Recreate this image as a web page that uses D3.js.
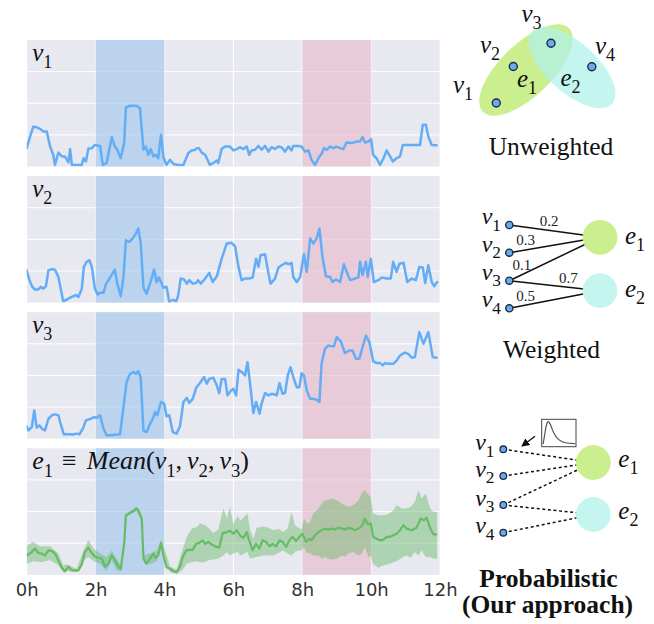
<!DOCTYPE html>
<html>
<head>
<meta charset="utf-8">
<script src="https://cdn.jsdelivr.net/npm/d3@7"></script>
<style>
  body { margin: 0; background: #fff; }
</style>
</head>
<body>
<svg id="fig" width="654" height="624"></svg>
<script>
// ---------- data (hours, value) ----------
var v1Time = [0,0.10,0.19,0.29,0.39,0.48,0.58,0.68,0.77,0.82,0.92,1.02,1.11,1.21,1.26,1.31,1.45,1.60,1.65,1.72,1.79,1.89,1.98,2.13,2.21,2.32,2.47,2.56,2.63,2.73,2.83,2.88,3.00,3.19,3.29,3.39,3.46,3.53,3.60,3.68,3.75,3.82,3.90,3.97,4.06,4.16,4.26,4.40,4.55,4.69,4.79,4.86,4.94,5.00,5.08,5.18,5.32,5.42,5.52,5.56,5.66,5.76,5.90,6.00,6.10,6.19,6.29,6.39,6.46,6.53,6.63,6.73,6.82,6.92,7.02,7.11,7.21,7.31,7.40,7.50,7.60,7.69,7.74,7.89,7.98,8.08,8.18,8.27,8.37,8.47,8.57,8.63,8.71,8.81,8.90,9.00,9.10,9.19,9.29,9.44,9.58,9.68,9.75,9.82,9.92,10.00,10.06,10.16,10.26,10.36,10.45,10.55,10.63,10.74,10.84,10.92,11.03,11.23,11.42,11.50,11.59,11.66,11.76,11.90];
var v1Vals = [0.58,0.95,1.26,1.24,1.19,1.11,1.11,0.63,0.37,0.05,0.44,0.32,0.32,0.13,0.55,0.05,0.05,0.05,0.26,0.16,0.57,0.58,0.68,0.65,0.05,0.11,0.93,0.63,0.53,0.26,0.74,1.87,1.92,1.92,1.84,0.53,0.63,0.37,0.55,0.32,0.37,0.26,1.00,0.29,0.05,0.21,0.08,0.05,0.05,0.42,0.51,0.51,0.58,0.58,0.44,0.37,0.05,0.11,0.19,0.11,0.55,0.63,0.63,0.51,0.55,0.61,0.55,0.63,0.37,0.51,0.53,0.65,0.53,0.65,0.47,0.61,0.55,0.63,0.61,0.47,0.63,0.51,0.65,0.65,0.63,0.47,0.51,0.21,0.05,0.26,0.42,0.58,0.53,0.63,0.58,0.63,0.58,0.55,0.76,0.74,0.79,0.79,0.93,0.76,0.79,0.86,0.37,0.26,0.05,0.26,0.51,0.32,0.16,0.26,0.32,0.68,0.68,0.68,0.68,1.32,1.32,0.95,0.68,0.67];

var v2Time = [0,0.08,0.15,0.24,0.34,0.41,0.48,0.56,0.63,0.73,0.82,0.92,1.06,1.16,1.26,1.35,1.43,1.50,1.60,1.66,1.74,1.82,1.89,1.98,2.06,2.13,2.23,2.30,2.42,2.56,2.63,2.73,2.81,2.88,2.98,3.08,3.17,3.24,3.31,3.39,3.48,3.58,3.70,3.77,3.84,3.92,3.97,4.06,4.14,4.24,4.34,4.40,4.47,4.57,4.65,4.72,4.82,4.92,4.98,5.05,5.18,5.30,5.40,5.52,5.66,5.81,5.95,6.05,6.15,6.24,6.34,6.46,6.56,6.66,6.73,6.79,6.92,7.02,7.08,7.21,7.31,7.40,7.53,7.60,7.69,7.74,7.84,7.94,8.05,8.13,8.23,8.32,8.42,8.50,8.59,8.69,8.81,8.88,8.98,9.10,9.21,9.31,9.39,9.53,9.63,9.68,9.75,9.85,9.90,9.99,10.08,10.21,10.31,10.45,10.57,10.64,10.74,10.82,10.94,11.05,11.18,11.30,11.40,11.50,11.57,11.66,11.76,11.83,11.92];
var v2Vals = [1.02,0.71,0.52,0.41,0.42,0.50,0.44,0.52,1.02,1.06,1.04,0.81,0.04,0.09,0.16,0.20,0.24,0.18,0.44,1.13,1.29,1.34,1.13,0.44,0.26,0.31,0.31,0.58,0.79,1.04,0.60,0.20,0.81,1.97,1.92,2.03,2.18,2.34,1.89,0.47,0.28,0.60,1.04,0.65,0.79,0.60,0.47,0.50,0.02,0.09,0.04,0.23,0.76,0.73,0.60,0.71,0.60,0.62,0.71,0.60,0.76,0.94,0.65,0.83,1.39,1.87,1.89,1.78,1.13,0.71,0.76,0.76,0.79,1.39,1.13,1.50,1.53,0.92,0.60,0.76,1.11,1.18,1.26,1.21,1.26,0.81,0.65,0.81,1.53,0.97,2.03,1.87,2.03,2.34,1.42,0.83,0.81,0.65,0.73,0.65,1.21,0.92,0.71,0.76,0.79,1.29,0.87,1.29,0.81,1.39,0.65,0.71,0.79,0.76,0.76,1.29,0.97,1.23,1.26,0.65,0.76,0.71,1.13,1.11,0.62,1.18,0.65,0.52,0.65];

var v3Time = [0,0.05,0.15,0.22,0.29,0.37,0.44,0.53,0.63,0.73,0.82,0.92,0.99,1.08,1.21,1.34,1.43,1.53,1.63,1.72,1.86,1.95,2.03,2.13,2.23,2.32,2.47,2.61,2.71,2.81,2.90,3.00,3.10,3.17,3.24,3.31,3.39,3.48,3.56,3.66,3.73,3.79,3.90,3.99,4.06,4.14,4.24,4.35,4.45,4.55,4.65,4.72,4.82,4.92,5.03,5.15,5.23,5.30,5.42,5.52,5.59,5.66,5.76,5.83,5.92,6.00,6.08,6.15,6.24,6.34,6.41,6.48,6.58,6.66,6.76,6.82,6.92,7.02,7.11,7.21,7.26,7.34,7.43,7.50,7.58,7.66,7.74,7.84,7.92,7.98,8.05,8.13,8.23,8.32,8.42,8.50,8.56,8.66,8.76,8.86,8.92,9.00,9.12,9.24,9.37,9.46,9.56,9.66,9.75,9.85,9.95,10.06,10.16,10.26,10.34,10.40,10.50,10.65,10.74,10.84,10.98,11.08,11.18,11.27,11.40,11.52,11.66,11.79,11.90];
var v3Vals = [0.39,0.26,0.37,0.89,0.35,0.42,0.32,0.26,0.63,0.74,0.77,0.74,0.45,0.14,0.14,0.13,0.16,0.14,0.32,0.58,0.63,0.68,0.66,0.74,0.32,0.11,0.11,0.13,0.14,1.00,1.79,2.05,2.11,2.05,2.14,1.93,0.26,0.21,0.42,0.63,0.84,0.74,1.16,1.11,0.71,0.74,0.21,0.16,0.39,1.16,1.29,1.13,1.26,1.61,1.76,1.95,1.74,1.89,1.93,1.68,1.44,1.89,1.89,1.37,1.51,1.58,1.37,2.18,2.11,2.00,2.42,1.79,0.81,1.16,0.79,1.11,1.44,1.37,1.42,1.40,1.37,1.76,1.42,1.44,2.00,2.26,1.95,1.63,1.63,2.07,2.00,1.53,1.26,1.26,1.23,1.16,2.37,2.84,2.95,2.92,2.92,3.21,3.08,2.71,2.79,2.79,2.53,2.53,2.89,3.26,3.05,2.45,2.39,2.39,2.32,2.39,2.37,2.37,2.47,2.63,2.72,2.68,2.56,2.58,3.37,3.00,3.37,2.58,2.56];

var meanTime = [0,0.15,0.24,0.34,0.44,0.53,0.63,0.73,0.82,0.92,1.02,1.11,1.21,1.31,1.50,1.60,1.69,1.79,1.89,1.98,2.08,2.18,2.27,2.37,2.47,2.56,2.66,2.73,2.83,2.88,3.00,3.10,3.19,3.24,3.34,3.39,3.48,3.58,3.68,3.75,3.82,3.90,3.97,4.06,4.16,4.26,4.35,4.45,4.53,4.63,4.72,4.82,4.92,5.01,5.11,5.18,5.27,5.37,5.47,5.59,5.69,5.81,5.90,6.00,6.10,6.19,6.29,6.39,6.46,6.56,6.66,6.75,6.85,6.95,7.05,7.14,7.24,7.34,7.43,7.53,7.63,7.72,7.82,7.92,8.01,8.11,8.21,8.27,8.37,8.47,8.56,8.66,8.76,8.86,8.95,9.05,9.15,9.24,9.34,9.44,9.53,9.63,9.73,9.82,9.90,9.99,10.06,10.16,10.26,10.36,10.45,10.55,10.65,10.74,10.84,10.94,11.03,11.18,11.32,11.44,11.54,11.61,11.71,11.81,11.92];
var meanVals = [0.61,0.72,0.83,0.69,0.67,0.61,0.77,0.75,0.67,0.46,0.22,0.11,0.26,0.14,0.14,0.33,0.72,0.86,0.69,0.58,0.54,0.51,0.26,0.35,0.61,0.46,0.26,0.19,0.98,1.88,1.96,2.02,2.10,2.04,1.78,0.51,0.35,0.51,0.67,0.54,0.61,1.01,0.61,0.24,0.19,0.12,0.08,0.26,0.56,0.77,0.79,0.79,0.98,1.01,1.09,0.98,1.04,0.96,0.90,0.86,1.32,1.35,1.39,1.30,1.41,1.25,1.17,1.35,1.09,0.77,0.98,0.83,1.09,1.04,0.90,0.98,0.90,1.09,1.04,0.88,1.09,1.20,1.07,1.20,1.30,1.04,1.14,1.09,1.25,1.35,1.41,1.46,1.43,1.46,1.43,1.49,1.46,1.43,1.49,1.46,1.41,1.46,1.53,1.78,1.60,1.62,1.20,1.14,1.09,1.11,1.20,1.20,1.25,1.30,1.41,1.57,1.46,1.41,1.49,1.78,1.72,1.81,1.49,1.28,1.28];

var bandTime = [0,0.19,0.39,0.68,0.92,1.06,1.16,1.45,1.65,1.79,1.94,2.13,2.32,2.47,2.61,2.76,2.83,2.88,3.19,3.34,3.41,3.58,3.77,3.90,4.02,4.16,4.35,4.50,4.65,4.79,4.94,5.03,5.18,5.27,5.42,5.56,5.71,5.81,5.90,6.00,6.12,6.21,6.41,6.48,6.58,6.68,6.87,7.02,7.16,7.31,7.45,7.57,7.69,7.79,7.89,7.98,8.05,8.13,8.23,8.32,8.47,8.56,8.66,8.76,8.86,9.00,9.15,9.24,9.34,9.48,9.63,9.73,9.82,9.92,9.99,10.06,10.21,10.36,10.50,10.65,10.74,10.89,11.03,11.15,11.27,11.37,11.47,11.59,11.71,11.81,11.92];
var bandHigh = [0.93,1.04,0.90,0.90,0.67,0.30,0.33,0.19,0.77,1.11,0.83,0.67,0.56,0.77,0.51,0.26,1.09,1.92,2.15,1.88,0.61,0.67,0.77,1.09,0.77,0.26,0.16,0.72,1.20,1.46,1.51,1.62,1.57,1.49,1.32,1.43,2.10,1.78,2.15,1.62,1.85,1.72,1.94,1.46,1.14,1.49,1.53,1.49,1.41,1.46,1.35,1.46,1.99,1.57,1.49,1.43,1.78,1.62,1.67,1.94,2.10,2.25,2.36,2.36,2.41,2.36,2.25,2.20,2.15,2.20,2.36,2.57,2.68,2.52,2.47,1.94,1.88,1.88,1.92,2.04,2.20,2.10,2.10,2.15,2.31,2.68,2.41,2.57,2.10,1.99,1.99];
var bandLow = [0.35,0.43,0.40,0.46,0.30,0.08,0.12,0.08,0.46,0.56,0.43,0.35,0.12,0.46,0.14,0.12,0.88,1.83,2.02,1.67,0.35,0.33,0.43,0.88,0.40,0.08,0.03,0.12,0.35,0.40,0.43,0.40,0.40,0.46,0.48,0.51,0.61,0.72,0.61,0.67,0.72,0.61,0.72,0.51,0.54,0.56,0.61,0.61,0.61,0.69,0.77,0.67,0.61,0.72,0.77,0.77,0.88,0.69,0.67,0.61,0.61,0.51,0.56,0.51,0.48,0.51,0.61,0.56,0.67,0.72,0.61,0.67,0.88,0.56,0.61,0.35,0.22,0.30,0.33,0.40,0.43,0.54,0.61,0.54,0.72,0.61,0.77,0.56,0.56,0.51,0.51];

var tickHours = [0, 2, 4, 6, 8, 10, 12];
var tickLabels = ["0h", "2h", "4h", "6h", "8h", "10h", "12h"];
var gridLevels = [1, 2, 3];
var spanBlue = [2, 4];
var spanRed = [8, 10];

// hypergraph diagrams
var vertexNames = ["v1", "v2", "v3", "v4"];
var edgeNames = ["e1", "e2"];
var weightedEdges = [["v1", "e1", 0.2], ["v2", "e1", 0.3], ["v3", "e1", 0.1], ["v3", "e2", 0.7], ["v4", "e2", 0.5]];
var probEdges = [["v1", "e1"], ["v2", "e1"], ["v3", "e1"], ["v3", "e2"], ["v4", "e2"]];
// small pdf sketch in the inset box
var pdfX = [0.04, 0.08, 0.12, 0.16, 0.20, 0.25, 0.30, 0.35, 0.40, 0.50, 0.60, 0.70, 0.80, 0.90, 0.97];
var pdfY = [0.02, 0.35, 0.75, 0.97, 1.00, 0.88, 0.68, 0.50, 0.37, 0.20, 0.12, 0.08, 0.06, 0.05, 0.04];

// ---------- layout ----------
var svg = d3.select("#fig");
var serif = "'Liberation Serif','Times New Roman',serif";
var panelTop0 = 40, panelStep = 136.1, panelH = 126.5;

var x = d3.scaleLinear().domain([0, 12]).range([26.7, 440]);

function zip(t, v) { return t.map(function(d, i) { return [d, v[i]]; }); }

// math-ish label: parts of [text, style, dx] where style: i = italic, s = subscript, r = roman
function mathText(sel, parts, size) {
  var txt = sel.append("text").attr("font-family", serif).attr("font-size", size).attr("fill", "#111");
  var shift = 0;
  parts.forEach(function(p) {
    var ts = txt.append("tspan").text(p[0]);
    var target = p[1] === "s" ? size * 0.28 : 0;
    if (target !== shift) { ts.attr("dy", target - shift); shift = target; }
    if (p[2]) ts.attr("dx", p[2]);
    if (p[1] === "s") ts.attr("font-size", size * 0.72);
    if (p[1] === "i") ts.attr("font-style", "italic");
  });
  return txt;
}
function vLabel(name) { return [[name[0], "i"], [name.slice(1), "s"]]; }

var panels = [
  {kind: "line", data: zip(v1Time, v1Vals), label: vLabel("v1"), size: 25},
  {kind: "line", data: zip(v2Time, v2Vals), label: vLabel("v2"), size: 25},
  {kind: "line", data: zip(v3Time, v3Vals), label: vLabel("v3"), size: 25},
  {kind: "band", data: zip(meanTime, meanVals), size: 26,
   label: [["e", "i"], ["1", "s"], ["\u2261", "r", 9], ["Mean", "i", 10], ["(", "r"], ["v", "i"], ["1", "s"], [",", "r"],
           ["v", "i", 5], ["2", "s"], [",", "r"], ["v", "i", 5], ["3", "s"], [")", "r"]]}
];

panels.forEach(function(p, i) {
  var top = panelTop0 + i * panelStep;
  var g = svg.append("g").attr("transform", "translate(0," + top + ")");
  var y = d3.scaleLinear().domain([0, 4]).range([panelH, 0]);

  g.append("clipPath").attr("id", "clip" + i)
    .append("rect").attr("x", x(0)).attr("y", 0).attr("width", x(12) - x(0)).attr("height", panelH);

  g.append("rect").attr("x", x(0)).attr("y", 0).attr("width", x(12) - x(0)).attr("height", panelH)
    .attr("fill", "#e8e8f0");

  g.selectAll(".vg").data(tickHours).enter().append("line")
    .attr("x1", x).attr("x2", x).attr("y1", 0).attr("y2", panelH)
    .attr("stroke", "#fff").attr("stroke-width", 1);
  g.selectAll(".hg").data(gridLevels).enter().append("line")
    .attr("x1", x(0)).attr("x2", x(12)).attr("y1", y).attr("y2", y)
    .attr("stroke", "#fff").attr("stroke-width", 1);

  g.append("rect").attr("x", x(spanBlue[0])).attr("width", x(spanBlue[1]) - x(spanBlue[0]))
    .attr("y", 0).attr("height", panelH).attr("fill", "#9cc4ea").attr("opacity", 0.6);
  g.append("rect").attr("x", x(spanRed[0])).attr("width", x(spanRed[1]) - x(spanRed[0]))
    .attr("y", 0).attr("height", panelH).attr("fill", "#e8b8c8").attr("opacity", 0.6);

  var plot = g.append("g").attr("clip-path", "url(#clip" + i + ")");
  var line = d3.line().x(function(d) { return x(d[0]); }).y(function(d) { return y(d[1]); });

  if (p.kind === "band") {
    var area = d3.area()
      .x(function(d) { return x(d[0]); })
      .y0(function(d) { return y(d[1]); })
      .y1(function(d) { return y(d[2]); });
    var bandData = bandTime.map(function(t, k) { return [t, bandLow[k], bandHigh[k]]; });
    plot.append("path").datum(bandData).attr("d", area)
      .attr("fill", "#66bb66").attr("opacity", 0.45);
    plot.append("path").datum(p.data).attr("d", line)
      .attr("fill", "none").attr("stroke", "#66bb66").attr("stroke-width", 2.2)
      .attr("stroke-linejoin", "round");
  } else {
    plot.append("path").datum(p.data).attr("d", line)
      .attr("fill", "none").attr("stroke", "#63adf6").attr("stroke-width", 2.5)
      .attr("stroke-linejoin", "round").attr("stroke-linecap", "round");
  }

  mathText(g, p.label, p.size).attr("x", x(0) + 5.5).attr("y", 21);
});

// x axis tick labels
var axisY = panelTop0 + 3 * panelStep + panelH;
var ax = svg.append("g").attr("transform", "translate(0," + axisY + ")")
  .call(d3.axisBottom(x).tickValues(tickHours)
    .tickFormat(function(d, i) { return tickLabels[i]; })
    .tickSize(0).tickPadding(8));
ax.select(".domain").remove();
ax.selectAll("text").attr("font-family", "'DejaVu Sans',sans-serif").attr("font-size", 18).attr("fill", "#333");

// ---------- right column: hypergraph sketches ----------
var nodeFill = "#6aabf0", nodeStroke = "#1b2a45";
var greenE = "#cbef8f", cyanE = "#c4f6ef";

// Unweighted
var uw = svg.append("g");
uw.append("ellipse").attr("transform", "translate(526,70) rotate(-44)")
  .attr("rx", 60).attr("ry", 26).attr("fill", greenE);
uw.append("ellipse").attr("transform", "translate(572,67.5) rotate(42)")
  .attr("rx", 54).attr("ry", 25).attr("fill", "#b0f2e8").attr("opacity", 0.75);
var uwPos = {v1: [496.3, 103], v2: [513.3, 66.5], v3: [551, 43.3], v4: [591.8, 66.7]};
uw.selectAll("circle.n").data(vertexNames).enter().append("circle")
  .attr("cx", function(d) { return uwPos[d][0]; }).attr("cy", function(d) { return uwPos[d][1]; })
  .attr("r", 4).attr("fill", nodeFill).attr("stroke", nodeStroke).attr("stroke-width", 1.4);
var uwLab = {v1: [453, 92.5], v2: [480, 53], v3: [521.5, 21.5], v4: [595, 53.5], e1: [517, 86.5], e2: [560.5, 86]};
vertexNames.concat(edgeNames).forEach(function(n) {
  mathText(uw, vLabel(n), 25).attr("x", uwLab[n][0]).attr("y", uwLab[n][1]);
});
uw.append("text").attr("x", 551).attr("y", 155).attr("text-anchor", "middle")
  .attr("font-family", serif).attr("font-size", 25.5).attr("fill", "#111").text("Unweighted");

// Weighted
var wt = svg.append("g");
var wNode = {v1: [509.3, 225], v2: [509.3, 252.7], v3: [509.3, 280.7], v4: [509.3, 308.3]};
var wEdge = {e1: [600, 237.3], e2: [600, 290.7]};
var wLabelFrac = [0.44, 0.18, 0.14, 0.65, 0.18];
weightedEdges.forEach(function(e, k) {
  var a = wNode[e[0]], b = wEdge[e[1]];
  wt.append("line").attr("x1", a[0]).attr("y1", a[1]).attr("x2", b[0]).attr("y2", b[1])
    .attr("stroke", "#111").attr("stroke-width", 1.5);
  var f = wLabelFrac[k];
  wt.append("text").attr("x", a[0] + f * (b[0] - a[0])).attr("y", a[1] + f * (b[1] - a[1]) - 4.5)
    .attr("text-anchor", "middle").attr("font-family", serif).attr("font-size", 15).attr("fill", "#222")
    .text(e[2].toFixed(1));
});
edgeNames.forEach(function(n, k) {
  wt.append("circle").attr("cx", wEdge[n][0]).attr("cy", wEdge[n][1]).attr("r", 17.4)
    .attr("fill", k === 0 ? greenE : cyanE);
  mathText(wt, vLabel(n), 25).attr("x", wEdge[n][0] + 25).attr("y", wEdge[n][1] + 6.5);
});
vertexNames.forEach(function(n) {
  wt.append("circle").attr("cx", wNode[n][0]).attr("cy", wNode[n][1]).attr("r", 3.6)
    .attr("fill", nodeFill).attr("stroke", nodeStroke).attr("stroke-width", 1.4);
  mathText(wt, vLabel(n), 24).attr("x", 501).attr("y", wNode[n][1] - 1).attr("text-anchor", "end");
});
wt.append("text").attr("x", 551.5).attr("y", 357.5).attr("text-anchor", "middle")
  .attr("font-family", serif).attr("font-size", 25.5).attr("fill", "#111").text("Weighted");

// Probabilistic
var pr = svg.append("g");
var pNode = {v1: [503.3, 449.3], v2: [503.3, 476], v3: [503.3, 505], v4: [503.3, 532.7]};
var pEdge = {e1: [593.3, 462.5], e2: [593.3, 514.5]};
probEdges.forEach(function(e) {
  var a = pNode[e[0]], b = pEdge[e[1]];
  pr.append("line").attr("x1", a[0]).attr("y1", a[1]).attr("x2", b[0]).attr("y2", b[1])
    .attr("stroke", "#111").attr("stroke-width", 1.5).attr("stroke-dasharray", "3,2.6");
});
edgeNames.forEach(function(n, k) {
  pr.append("circle").attr("cx", pEdge[n][0]).attr("cy", pEdge[n][1]).attr("r", 17.4)
    .attr("fill", k === 0 ? greenE : cyanE);
  mathText(pr, vLabel(n), 25).attr("x", pEdge[n][0] + 25).attr("y", pEdge[n][1] + 4.5);
});
vertexNames.forEach(function(n) {
  pr.append("circle").attr("cx", pNode[n][0]).attr("cy", pNode[n][1]).attr("r", 3.3)
    .attr("fill", nodeFill).attr("stroke", nodeStroke).attr("stroke-width", 1.3);
  mathText(pr, vLabel(n), 24).attr("x", 494.5).attr("y", pNode[n][1] + 0.5).attr("text-anchor", "end");
});

// inset pdf box
var box = {x0: 541.7, x1: 576, y0: 419.3, y1: 446.7};
pr.append("rect").attr("x", box.x0).attr("y", box.y0).attr("width", box.x1 - box.x0).attr("height", box.y1 - box.y0)
  .attr("fill", "#fff").attr("stroke", "#444").attr("stroke-width", 1);
var px = d3.scaleLinear().domain([0, 1]).range([box.x0, box.x1]);
var py = d3.scaleLinear().domain([0, 1.08]).range([box.y1 - 2, box.y0]);
pr.append("path").datum(zip(pdfX, pdfY))
  .attr("d", d3.line().x(function(d) { return px(d[0]); }).y(function(d) { return py(d[1]); }).curve(d3.curveBasis))
  .attr("fill", "none").attr("stroke", "#555").attr("stroke-width", 1.2);

// arrow from box to v1
svg.append("defs").append("marker").attr("id", "arr").attr("viewBox", "0 0 10 10")
  .attr("refX", 5).attr("refY", 5).attr("markerWidth", 6).attr("markerHeight", 6).attr("orient", "auto")
  .append("path").attr("d", "M0,0 L10,5 L0,10 z").attr("fill", "#111");
pr.append("line").attr("x1", 535).attr("y1", 436.3).attr("x2", 524.5).attr("y2", 444.2)
  .attr("stroke", "#111").attr("stroke-width", 1.4).attr("marker-end", "url(#arr)");

pr.append("text").attr("x", 548.5).attr("y", 586.5).attr("text-anchor", "middle")
  .attr("font-family", serif).attr("font-weight", "bold").attr("font-size", 25.5).attr("fill", "#111")
  .text("Probabilistic");
pr.append("text").attr("x", 547.5).attr("y", 613).attr("text-anchor", "middle")
  .attr("font-family", serif).attr("font-weight", "bold").attr("font-size", 25.5).attr("fill", "#111")
  .text("(Our approach)");
</script>
</body>
</html>
